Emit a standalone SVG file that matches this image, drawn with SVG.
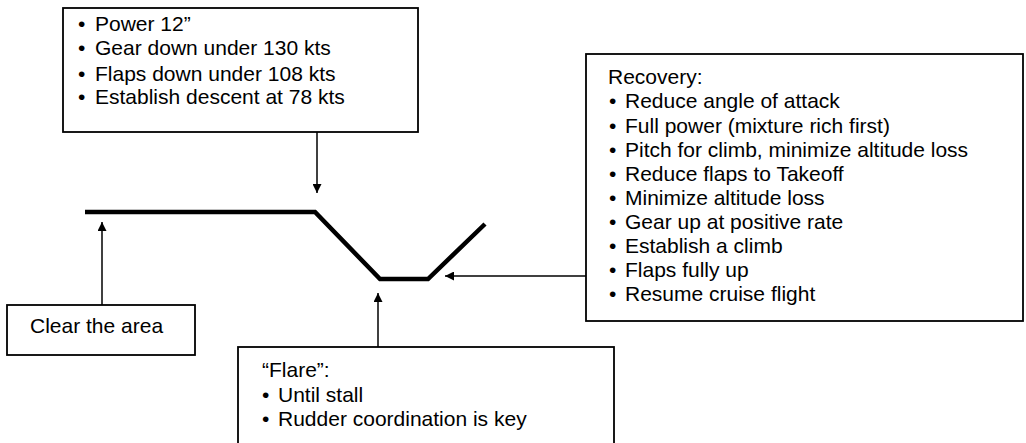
<svg xmlns="http://www.w3.org/2000/svg" width="1026" height="443" viewBox="0 0 1026 443">
<style>
.box{fill:#fff;stroke:#000;stroke-width:1.8}
.t{font-family:"Liberation Sans",Arial,sans-serif;font-size:21px;fill:#000}
.arr{stroke:#000;stroke-width:1.5;fill:none;marker-end:url(#ah)}
.path{stroke:#000;stroke-width:4.5;fill:none;stroke-linejoin:miter}
</style>
<defs>
<marker id="ah" viewBox="0 0 10 10" refX="10" refY="5" markerWidth="6" markerHeight="6" orient="auto" markerUnits="strokeWidth">
<path d="M0,0 L10,5 L0,10 z" fill="#000"/>
</marker>
</defs>
<rect width="1026" height="443" fill="#fff"/>
<g id="flightpath">
<polyline class="path" points="85,212 315,212 380,279 428,279 485,224"/>
</g>
<g id="top-box">
<rect class="box" x="63" y="8" width="355" height="124"/>
<text class="t" x="78" y="31">•</text><text class="t" x="95" y="31">Power 12”</text>
<text class="t" x="78" y="55">•</text><text class="t" x="95" y="55">Gear down under 130 kts</text>
<text class="t" x="78" y="81">•</text><text class="t" x="95" y="81">Flaps down under 108 kts</text>
<text class="t" x="78" y="104">•</text><text class="t" x="95" y="104">Establish descent at 78 kts</text>
</g>
<g id="recovery-box">
<rect class="box" x="586" y="54" width="437" height="267"/>
<text class="t" x="608" y="84">Recovery:</text>
<text class="t" x="609" y="108">•</text><text class="t" x="625" y="108">Reduce angle of attack</text>
<text class="t" x="609" y="133">•</text><text class="t" x="625" y="133">Full power (mixture rich first)</text>
<text class="t" x="609" y="157">•</text><text class="t" x="625" y="157">Pitch for climb, minimize altitude loss</text>
<text class="t" x="609" y="181">•</text><text class="t" x="625" y="181">Reduce flaps to Takeoff</text>
<text class="t" x="609" y="205">•</text><text class="t" x="625" y="205">Minimize altitude loss</text>
<text class="t" x="609" y="229">•</text><text class="t" x="625" y="229">Gear up at positive rate</text>
<text class="t" x="609" y="253">•</text><text class="t" x="625" y="253">Establish a climb</text>
<text class="t" x="609" y="277">•</text><text class="t" x="625" y="277">Flaps fully up</text>
<text class="t" x="609" y="301">•</text><text class="t" x="625" y="301">Resume cruise flight</text>
</g>
<g id="clear-box">
<rect class="box" x="7" y="305" width="188" height="50"/>
<text class="t" x="30" y="333">Clear the area</text>
</g>
<g id="flare-box">
<rect class="box" x="238" y="347" width="376" height="110"/>
<text class="t" x="262" y="377">“Flare”:</text>
<text class="t" x="262" y="402">•</text><text class="t" x="278" y="402">Until stall</text>
<text class="t" x="262" y="426">•</text><text class="t" x="278" y="426">Rudder coordination is key</text>
</g>
<g id="connectors">
<line class="arr" x1="317" y1="132" x2="317" y2="193"/>
<line class="arr" x1="102" y1="305" x2="102" y2="222"/>
<line class="arr" x1="378" y1="347" x2="378" y2="293"/>
<line class="arr" x1="586" y1="276" x2="445" y2="276"/>
</g>
</svg>
